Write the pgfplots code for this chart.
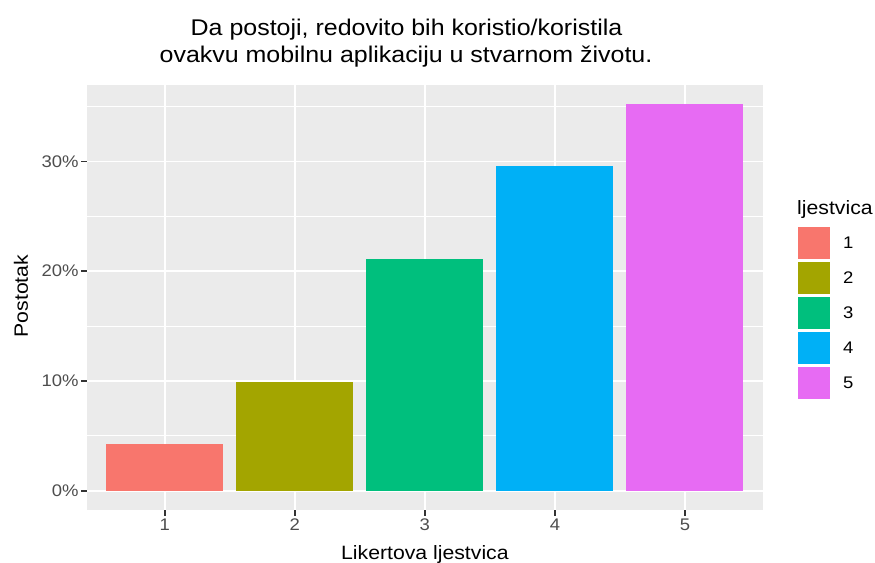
\documentclass[border=0pt]{standalone}
\usepackage{pgfplots}
\pgfplotsset{compat=1.18}
\usepackage{fontspec}
\setmainfont{Liberation Sans}[FakeStretch=1.1]
\definecolor{c1}{HTML}{F8766D}
\definecolor{c2}{HTML}{A3A500}
\definecolor{c3}{HTML}{00BF7D}
\definecolor{c4}{HTML}{00B0F6}
\definecolor{c5}{HTML}{E76BF3}
\definecolor{panelbg}{HTML}{EBEBEB}
\definecolor{tickgray}{HTML}{333333}
\definecolor{labgray}{HTML}{4D4D4D}
\begin{document}
\begin{tikzpicture}
\useasboundingbox (0,0) rectangle (875pt,562pt);
\begin{axis}[
  at={(86.7pt,52pt)}, anchor=south west,
  width=676.3pt, height=425pt, scale only axis,
  xmin=0.4, xmax=5.6, ymin=-1.76, ymax=36.97,
  axis background/.style={fill=panelbg},
  axis line style={draw=none},
  xtick={1,2,3,4,5}, xticklabels={1,2,3,4,5},
  ytick={0,10,20,30}, yticklabels={0\%,10\%,20\%,30\%},
  minor ytick={5,15,25,35},
  xtick pos=bottom, ytick pos=left,
  ymajorgrids, xmajorgrids, yminorgrids,
  major grid style={white, line width=1.9pt},
  minor grid style={white, line width=0.95pt},
  tick align=outside, major tick length=5.5pt, minor tick length=0pt,
  major tick style={tickgray, line width=1.9pt},
  ticklabel style={font=\fontsize{16.8}{20}\selectfont, text=labgray},
  xticklabel style={inner sep=3pt},
  yticklabel style={inner sep=2.5pt},
  ybar, bar width=0.9, bar shift=0pt,
  legend image code/.code={\fill[#1] (0pt,-16pt) rectangle (32pt,16pt);},
  legend style={at={(1.0518,0.6659)}, anchor=north west, draw=none, fill=none,
    inner sep=0pt, outer sep=0pt, row sep=3pt, column sep=13pt,
    font=\fontsize{16.8}{20}\selectfont,
    nodes={inner sep=0pt}},
  legend cell align=left,
]
\addplot[fill=c1, draw=none] coordinates {(1,4.225)};
\addlegendentry{1}
\addplot[fill=c2, draw=none] coordinates {(2,9.859)};
\addlegendentry{2}
\addplot[fill=c3, draw=none] coordinates {(3,21.127)};
\addlegendentry{3}
\addplot[fill=c4, draw=none] coordinates {(4,29.577)};
\addlegendentry{4}
\addplot[fill=c5, draw=none] coordinates {(5,35.211)};
\addlegendentry{5}
\end{axis}
\node[anchor=base, font=\fontsize{22.7}{27}\selectfont] at (406.5pt,526pt) {Da postoji, redovito bih koristio/koristila};
\node[anchor=base, font=\fontsize{22.7}{27}\selectfont] at (406pt,499pt) {ovakvu mobilnu aplikaciju u stvarnom životu.};
\node[rotate=90, anchor=center, font=\fontsize{19.3}{23}\selectfont] at (21pt,266pt) {Postotak};
\node[anchor=base, font=\fontsize{19.3}{23}\selectfont] at (424.9pt,3pt) {Likertova ljestvica};
\node[anchor=base west, inner sep=0pt, font=\fontsize{19.3}{23}\selectfont] at (797pt,347pt) {ljestvica};
\end{tikzpicture}
\end{document}
